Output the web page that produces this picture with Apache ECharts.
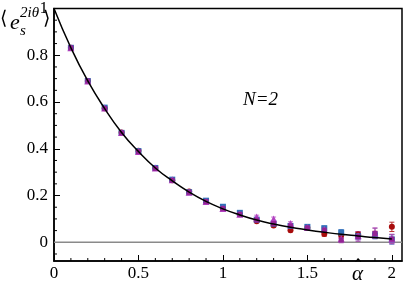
<!DOCTYPE html>
<html>
<head>
<meta charset="utf-8">
<script src="https://cdn.jsdelivr.net/npm/echarts@6/dist/echarts.min.js"></script>
<style>html,body{margin:0;padding:0;background:#fff}#c{width:407px;height:287px}</style>
</head>
<body>
<div id="c"></div>
<script>
// ---- data ----
const alphaVals = [0.1,0.2,0.3,0.4,0.5,0.6,0.7,0.8,0.9,1.0,1.1,1.2,1.3,1.4,1.5,1.6,1.7,1.8,1.9,2.0];
const curveX = [0,0.1,0.2,0.3,0.4,0.5,0.6,0.7,0.8,0.9,1.0,1.1,1.2,1.3,1.4,1.5,1.6,1.7,1.8,1.9,2.0];
const curveY = [1.0,0.832,0.690,0.572,0.470,0.388,0.318,0.263,0.215,0.175,0.143,0.117,0.095,0.078,0.064,0.053,0.043,0.034,0.027,0.020,0.014];
const redVals  = [0.832,0.690,0.573,0.470,0.392,0.318,0.265,0.217,0.176,0.145,0.120,0.090,0.072,0.051,0.062,0.036,0.030,0.034,0.032,0.066];
const redErr   = [0.002,0.002,0.002,0.002,0.003,0.003,0.003,0.003,0.004,0.004,0.004,0.005,0.006,0.006,0.006,0.010,0.012,0.012,0.015,0.020];
const blueVals = [0.832,0.690,0.576,0.468,0.390,0.318,0.268,0.214,0.178,0.152,0.126,0.097,0.080,0.070,0.066,0.060,0.042,0.026,0.030,0.012];
const blueErr  = [0.002,0.002,0.002,0.002,0.003,0.003,0.003,0.003,0.004,0.004,0.004,0.005,0.006,0.006,0.008,0.010,0.012,0.015,0.015,0.020];
const triVals  = [0.832,0.690,0.574,0.470,0.388,0.318,0.268,0.214,0.174,0.145,0.120,0.108,0.100,0.080,0.063,0.055,0.015,0.028,0.040,0.014];
const triErr   = [0.002,0.002,0.002,0.002,0.003,0.003,0.003,0.003,0.004,0.004,0.005,0.008,0.008,0.008,0.008,0.010,0.012,0.018,0.022,0.020];
const sqVals   = [0.832,0.690,0.572,0.468,0.388,0.316,0.265,0.214,0.174,0.145,0.120,0.095,0.080,0.070,0.062,0.052,0.010,0.024,0.038,0.014];
const sqErr    = [0.002,0.002,0.002,0.002,0.003,0.003,0.003,0.003,0.004,0.004,0.004,0.005,0.006,0.006,0.008,0.010,0.012,0.020,0.022,0.020];
const zeroLineX = [0, 2.06];
const zeroLineY = [0, 0];
const xMajor = [0,0.5,1,1.5,2];
const xMinor = [0.1,0.2,0.3,0.4,0.6,0.7,0.8,0.9,1.1,1.2,1.3,1.4,1.6,1.7,1.8,1.9];
const yMajor = [0,0.2,0.4,0.6,0.8,1];
const yMinor = [-0.05,0.05,0.1,0.15,0.25,0.3,0.35,0.45,0.5,0.55,0.65,0.7,0.75,0.85,0.9,0.95];

const X_MIN = 0, X_MAX = 2.06, Y_MIN = -0.08, Y_MAX = 1;
const chart = echarts.init(document.getElementById('c'), null, {renderer:'canvas'});

function pts(vals){ return alphaVals.map((a,i)=>[a, vals[i]]); }
function errData(vals, errs){ return alphaVals.map((a,i)=>[a, vals[i]-errs[i], vals[i]+errs[i]]); }
function errSeries(vals, errs, color){
  return {
    type:'custom', z:2,
    data: errData(vals, errs),
    encode:{x:0, y:[1,2]},
    renderItem: function(params, api){
      const x = api.value(0), lo = api.value(1), hi = api.value(2);
      const p1 = api.coord([x, lo]), p2 = api.coord([x, hi]);
      const w = 2.5;
      const d = 'M' + p1[0] + ' ' + p1[1] + 'L' + p2[0] + ' ' + p2[1] +
                'M' + (p1[0]-w) + ' ' + p1[1] + 'L' + (p1[0]+w) + ' ' + p1[1] +
                'M' + (p2[0]-w) + ' ' + p2[1] + 'L' + (p2[0]+w) + ' ' + p2[1];
      return {type:'path', shape:{pathData:d}, style:{stroke: color, lineWidth: 1, fill: null}};
    }
  };
}
function scatter(vals, symbol, size, color){
  return {type:'scatter', data: pts(vals), symbol: symbol, symbolSize: size, z:3,
    itemStyle:{color: color, opacity: 1}};
}
// minor tick marks: [value, kind]  kind: 1 = x minor, 3 = y minor
const tickData = [].concat(xMinor.map(v=>[v, 1]), yMinor.map(v=>[v, 3]));
const tickSeries = {
  type:'custom', z:6,
  data: tickData,
  encode:{x:0, y:1},
  renderItem: function(params, api){
    const v = api.value(0), kind = api.value(1);
    const len = 3;
    if (kind < 2) {
      const p = api.coord([v, Y_MIN]);
      return {type:'line', shape:{x1:p[0], y1:p[1], x2:p[0], y2:p[1]-len}, style:{stroke:'#000', lineWidth:1}};
    }
    const q = api.coord([X_MIN, v]);
    return {type:'line', shape:{x1:q[0], y1:q[1], x2:q[0]+len, y2:q[1]}, style:{stroke:'#000', lineWidth:1}};
  }
};

chart.setOption({
  animation:false,
  textStyle:{fontFamily:'Liberation Serif'},
  grid:{left:54, right:5, top:6, bottom:26, show:true, borderColor:'#000', borderWidth:1.5},
  xAxis:{type:'value', min:X_MIN, max:X_MAX, splitLine:{show:false},
     axisLine:{onZero:false, lineStyle:{color:'#000', width:1.5}},
     axisTick:{show:true, inside:true, length:6, customValues:xMajor, lineStyle:{color:'#000', width:1}},
     axisLabel:{customValues:xMajor, fontFamily:'Liberation Serif', fontSize:17, color:'#000', margin:4}},
  yAxis:{type:'value', min:Y_MIN, max:Y_MAX, splitLine:{show:false},
     axisLine:{onZero:false, lineStyle:{color:'#000', width:1.5}},
     axisTick:{show:true, inside:true, length:6, customValues:yMajor, lineStyle:{color:'#000', width:1}},
     axisLabel:{customValues:yMajor, fontFamily:'Liberation Serif', fontSize:17, color:'#000', margin:6}},
  series:[
    tickSeries,
    {type:'line', data: zeroLineX.map((x,i)=>[x, zeroLineY[i]]), showSymbol:false, symbol:'none',
     lineStyle:{color:'#8a8a8a', width:1.5}, z:1},
    {type:'line', data: curveX.map((x,i)=>[x, curveY[i]]), smooth:true, showSymbol:false, symbol:'none',
     lineStyle:{color:'#000', width:1.5}, z:4},
    errSeries(redVals, redErr, '#b83030'),
    scatter(redVals, 'circle', 6, '#a80c0c'),
    errSeries(blueVals, blueErr, '#4a80c8'),
    scatter(blueVals, 'rect', 6, '#3070b8'),
    errSeries(triVals, triErr, '#c870d0'),
    scatter(triVals, 'triangle', 7, '#b040c0'),
    errSeries(sqVals, sqErr, '#a050a8'),
    scatter(sqVals, 'rect', 5, '#932494')
  ],
  graphic:[
    {type:'text', left:0, top:10, style:{text:'⟨', fontFamily:'DejaVu Serif', fontSize:19, fill:'#000'}},
    {type:'text', left:10, top:12, style:{text:'e', fontFamily:'Liberation Serif', fontStyle:'italic', fontSize:22, fill:'#000'}},
    {type:'text', left:20, top:6, style:{text:'2iθ', fontFamily:'Liberation Serif', fontStyle:'italic', fontSize:15, fill:'#000'}},
    {type:'text', left:20, top:24, style:{text:'s', fontFamily:'Liberation Serif', fontStyle:'italic', fontSize:15, fill:'#000'}},
    {type:'text', left:43, top:10, style:{text:'⟩', fontFamily:'DejaVu Serif', fontSize:19, fill:'#000'}},
    {type:'text', left:243, top:90, style:{text:'N=2', fontFamily:'Liberation Serif', fontStyle:'italic', fontSize:19, fill:'#000'}},
    {type:'text', left:352, top:264, style:{text:'α', fontFamily:'Liberation Serif', fontStyle:'italic', fontSize:21, fill:'#000'}},
    {type:'text', left:355, top:258, style:{text:'ˆ', fontFamily:'Liberation Serif', fontSize:19, fill:'#000'}}
  ]
});
</script>
</body>
</html>
